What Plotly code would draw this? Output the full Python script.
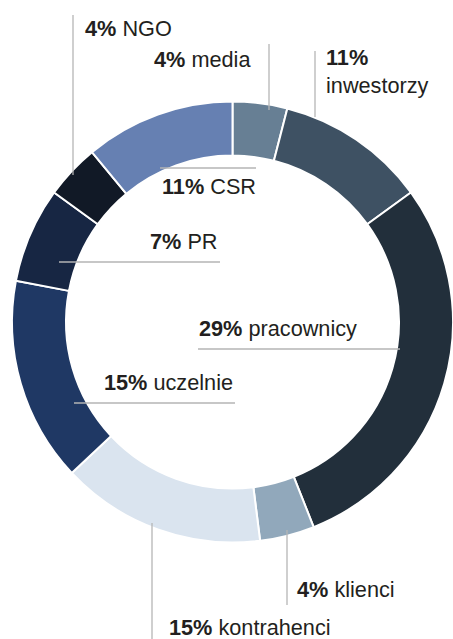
import plotly.graph_objects as go

# --- data (clockwise from 12 o'clock) ---
groups = ['media', 'inwestorzy', 'pracownicy', 'klienci', 'kontrahenci',
          'uczelnie', 'PR', 'NGO', 'CSR']
shares = [4, 11, 29, 4, 15, 15, 7, 4, 11]

colors = ['#677f94', '#3e5163', '#222f3b', '#91a8bb', '#dae4ef',
          '#1f3864', '#172643', '#111926', '#6680b2']

W, H = 453, 639
TEXT_COLOR = '#231f20'
LINE_COLOR = '#b5b5b5'
FONT = 'Arial, Liberation Sans, sans-serif'

# label placement in pixels: text anchor (x, y, xanchor) and leader line (x0, y0, x1, y1)
label_layout = {
    'NGO':         dict(tx=83, ty=29, xa='left', line=(73, 15, 73, 175)),
    'media':       dict(tx=253, ty=59, xa='right', line=(269, 44, 269, 110)),
    'inwestorzy':  dict(tx=324, ty=72, xa='left', line=(315, 51, 315, 117), br=True),
    'CSR':         dict(tx=209, ty=186, xa='center', line=(160, 168, 256, 168)),
    'PR':          dict(tx=220, ty=241, xa='right', line=(59, 262, 220, 262)),
    'pracownicy':  dict(tx=197, ty=328, xa='left', line=(198, 349, 400, 349)),
    'uczelnie':    dict(tx=235, ty=382, xa='right', line=(74, 403, 235, 403)),
    'klienci':     dict(tx=295, ty=589, xa='left', line=(287, 530, 287, 605)),
    'kontrahenci': dict(tx=167, ty=627, xa='left', line=(152, 523, 152, 639)),
}


def px(x):
    return x / W


def py(y):
    return 1 - y / H


fig = go.Figure(go.Pie(
    labels=groups,
    values=shares,
    sort=False,
    direction='clockwise',
    rotation=0,
    hole=0.755,
    marker=dict(colors=colors, line=dict(color='#ffffff', width=2)),
    textinfo='none',
    hoverinfo='label+percent',
    showlegend=False,
    domain=dict(x=[12 / W, 1], y=[0.146, 0.846]),
))

annotations = []
shapes = []
for name, val in zip(groups, shares):
    lay = label_layout[name]
    sep = '<br>' if lay.get('br') else ' '
    annotations.append(dict(
        x=px(lay['tx']), y=py(lay['ty']), xref='paper', yref='paper',
        xanchor=lay['xa'], yanchor='middle', align='left',
        text=f'<b>{val}%</b>{sep}{name}', showarrow=False,
        font=dict(family=FONT, size=21.7, color=TEXT_COLOR),
    ))
    x0, y0, x1, y1 = lay['line']
    shapes.append(dict(
        type='line', xref='paper', yref='paper',
        x0=px(x0), y0=py(y0), x1=px(x1), y1=py(y1),
        line=dict(color=LINE_COLOR, width=1.3), layer='above',
    ))

fig.update_layout(
    width=W, height=H,
    margin=dict(l=0, r=0, t=0, b=0),
    paper_bgcolor='#ffffff',
    plot_bgcolor='#ffffff',
    font=dict(family=FONT, color=TEXT_COLOR),
    annotations=annotations,
    shapes=shapes,
)

# drop the default page margin so the figure sits at the window's corner
fig.write_html('out.html', config={'displayModeBar': False},
               post_script="document.body.style.margin='0';")
